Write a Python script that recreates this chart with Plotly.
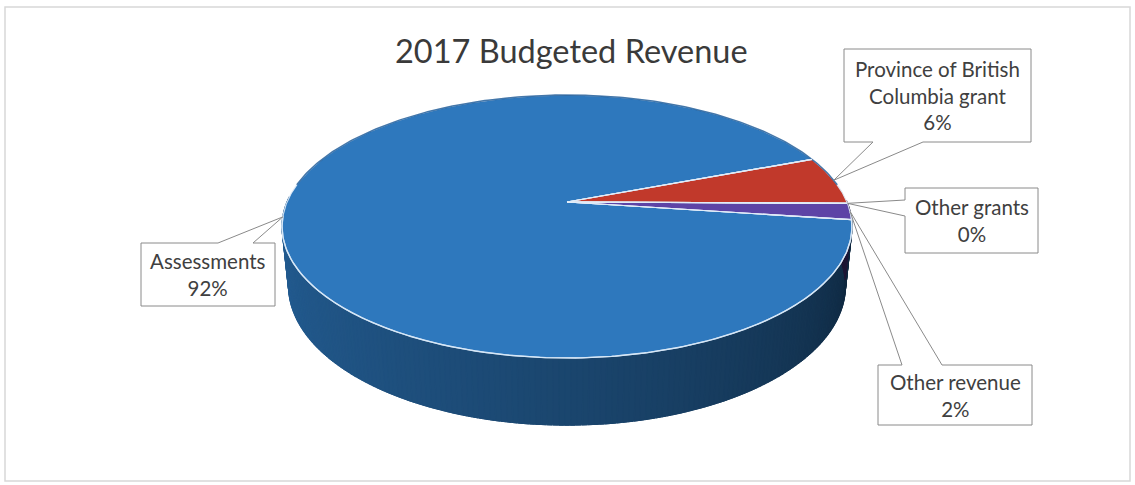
import numpy as np
import plotly.graph_objects as go

# ---- data -------------------------------------------------------------
categories = ["Assessments", "Province of British Columbia grant", "Other grants", "Other revenue"]
label_lines = ["Assessments", "Province of British<br>Columbia grant", "Other grants", "Other revenue"]
values = [92, 6, 0, 2]
top_colors = ["#2e78bd", "#c1392b", "#a5a5a5", "#5d44a6"]

# ---- 3D pie geometry (perspective view of a flat disc) -------------------
W, HGT = 1135, 485
CX, CY = 567.0, 202.0          # screen position of the pie centre
FOCAL, DIST = 1339.4, 4.784    # focal length / camera distance (radius = 1)
TILT = np.radians(26.96)
SA, CA = np.sin(TILT), np.cos(TILT)
THICK = 0.239                  # disc thickness relative to radius
START = -7.8                   # angle where the first slice begins (deg, ccw from +x)


def project(theta_deg, z=0.0):
    t = np.radians(np.asarray(theta_deg, dtype=float))
    x, y = np.cos(t), np.sin(t)
    yc = y * SA + z * CA
    dist = DIST + y * CA - z * SA
    return CX + FOCAL * x / dist, CY - FOCAL * yc / dist


total = float(sum(values))
spans = []
acc = START
for v in values:
    sweep = 360.0 * v / total
    spans.append((acc - sweep, acc))   # slices run clockwise
    acc -= sweep


def hex_rgb(h):
    h = h.lstrip("#")
    return tuple(int(h[i:i + 2], 16) for i in (0, 2, 4))


def shade(base, theta):
    t = max((theta % 360.0 - 180.0) / 180.0, 0.0)
    f = 0.78 - 0.48 * t ** 1.3
    return "rgb(%d,%d,%d)" % tuple(int(c * f) for c in base)


fig = go.Figure()

# ---- side wall (front half), shaded darker towards the right ------------
for (a0, a1), col in zip(spans, top_colors):
    if a1 - a0 <= 0:
        continue
    base = hex_rgb(col)
    edges = np.append(np.arange(a0, a1, 1.0), a1)
    for s0, s1 in zip(edges[:-1], edges[1:]):
        mid = ((s0 + s1) / 2.0) % 360.0
        if mid < 178:
            continue
        rgb = shade(base, mid)
        arc = np.linspace(s0 - 0.35, s1 + 0.35, 4)   # slight overlap hides seams
        tx, ty = project(arc, 0.0)
        bx, by = project(arc[::-1], -THICK)
        fig.add_trace(go.Scatter(
            x=np.concatenate([tx, bx, tx[:1]]), y=np.concatenate([ty, by, ty[:1]]),
            mode="lines", fill="toself", fillcolor=rgb,
            line=dict(color=rgb, width=1.2), hoverinfo="skip", showlegend=False))

# ---- top face slices ----------------------------------------------------
for (a0, a1), col, name in zip(spans, top_colors, categories):
    if a1 - a0 <= 0:
        continue
    arc = np.linspace(a1, a0, max(int((a1 - a0) * 2), 8))
    ax_, ay_ = project(arc, 0.0)
    fig.add_trace(go.Scatter(
        x=np.concatenate([[CX], ax_, [CX]]), y=np.concatenate([[CY], ay_, [CY]]),
        mode="lines", fill="toself", fillcolor=col,
        line=dict(color="rgba(225,236,248,0.9)", width=1.2),
        name=name, hoverinfo="name", showlegend=False))

# darker rim along the far edge of the top face
back = np.linspace(8, 172, 200)
bx_, by_ = project(back, 0.0)
fig.add_trace(go.Scatter(x=bx_, y=by_, mode="lines",
                         line=dict(color="rgba(30,90,150,0.8)", width=1.5),
                         hoverinfo="skip", showlegend=False))

# slice boundaries (including zero-width slices)
for (a0, a1) in spans:
    for a in (a0, a1):
        ex, ey = project(a, 0.0)
        fig.add_trace(go.Scatter(x=[CX, float(ex)], y=[CY, float(ey)], mode="lines",
                                 line=dict(color="rgba(225,236,248,0.9)", width=1.2),
                                 hoverinfo="skip", showlegend=False))

# light bevel along the front rim
rim = np.linspace(186, 356, 200)
rx, ry = project(rim, 0.0)
fig.add_trace(go.Scatter(x=rx, y=ry, mode="lines",
                         line=dict(color="rgba(215,232,248,0.95)", width=1.4),
                         hoverinfo="skip", showlegend=False))

# ---- callout labels -----------------------------------------------------
# box (x0, y0, x1, y1), side of the pointer, pointer base range
boxes = [
    ((141, 243, 275, 306), "top", (218, 253)),
    ((844, 49, 1031, 142), "bottom", (873, 923)),
    ((905, 188, 1038, 253), "left", (200, 216)),
    ((878, 365, 1032, 425), "top", (902, 942)),
]

for (a0, a1), (box, side, (p0, p1)), text, v in zip(spans, boxes, label_lines, values):
    tipx, tipy = project((a0 + a1) / 2.0, 0.0)
    tipx, tipy = float(tipx), float(tipy)
    x0, y0, x1, y1 = box
    if side == "top":
        pts = [(x0, y0), (p0, y0), (tipx, tipy), (p1, y0), (x1, y0), (x1, y1), (x0, y1)]
    elif side == "bottom":
        pts = [(x0, y0), (x1, y0), (x1, y1), (p1, y1), (tipx, tipy), (p0, y1), (x0, y1)]
    else:
        pts = [(x0, y0), (x1, y0), (x1, y1), (x0, y1), (x0, p1), (tipx, tipy), (x0, p0)]
    pts.append(pts[0])
    fig.add_trace(go.Scatter(x=[p[0] for p in pts], y=[p[1] for p in pts], mode="lines",
                             fill="toself", fillcolor="white",
                             line=dict(color="#8a8a8a", width=1),
                             hoverinfo="skip", showlegend=False))
    pct = round(100.0 * v / total)
    fig.add_annotation(x=(x0 + x1) / 2.0, y=(y0 + y1) / 2.0, xref="x", yref="y",
                       text=f"{text}<br>{pct}%", showarrow=False,
                       font=dict(family="Lato", size=20.5, color="#404040"))

# ---- title --------------------------------------------------------------
fig.add_annotation(x=571, y=50, xref="x", yref="y", text="2017 Budgeted Revenue",
                   showarrow=False, font=dict(family="Lato", size=32.5, color="#3a3a3a"))

# outer chart border
fig.add_shape(type="rect", xref="x", yref="y", x0=5, y0=7, x1=1130, y1=481,
              line=dict(color="#d8d8d8", width=1.5), fillcolor="rgba(0,0,0,0)", layer="below")

fig.update_xaxes(range=[0, W], visible=False, fixedrange=True)
fig.update_yaxes(range=[HGT, 0], visible=False, fixedrange=True)
fig.update_layout(width=W, height=HGT, margin=dict(l=0, r=0, t=0, b=0),
                  paper_bgcolor="white", plot_bgcolor="white")

fig.write_html("out.html")
